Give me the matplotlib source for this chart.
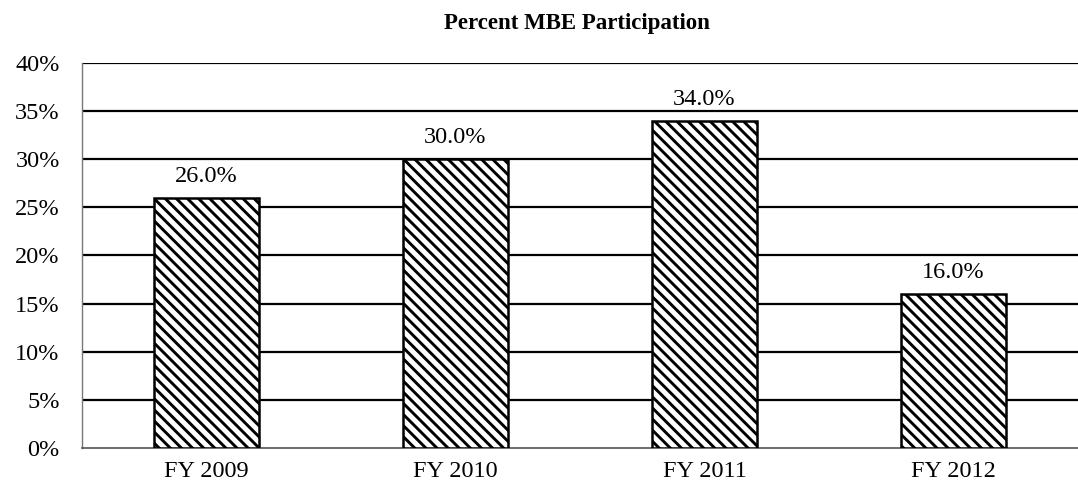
import matplotlib.pyplot as plt
import numpy as np

years = ['FY 2009', 'FY 2010', 'FY 2011', 'FY 2012']
mbe_pct = [26.0, 30.0, 34.0, 16.0]
yticks = [0, 5, 10, 15, 20, 25, 30, 35, 40]

plt.rcParams['font.family'] = ['Liberation Serif', 'DejaVu Serif']
plt.rcParams['hatch.linewidth'] = 2.1

fig = plt.figure(figsize=(10.78, 4.94), dpi=100)
ax = fig.add_axes([0.076, 0.093, 0.924, 0.78])

x = np.arange(len(years))
bars = ax.bar(x, mbe_pct, width=0.42, color='white', edgecolor='black',
              linewidth=1.8, hatch='\\\\\\', zorder=3)

# labels sit a bit above each bar, clear of the grid line
for b, v in zip(bars, mbe_pct):
    ax.annotate(f'{v:.1f}%', (b.get_x() + b.get_width() / 2, v),
                xytext=(0, 15.5), textcoords='offset points',
                ha='center', va='center', fontsize=17.5)

ax.set_xlim(-0.5, len(years) - 0.5)
ax.set_ylim(0, 40)
ax.set_yticks(yticks)
ax.set_yticklabels([f'{t}%' for t in yticks], fontsize=17.5)
ax.set_xticks(x)
ax.set_xticklabels(years, fontsize=17.5)
ax.tick_params(length=0, pad=9, axis='x')
ax.tick_params(length=0, pad=16, axis='y')

for t in yticks[1:]:
    ax.axhline(t, color='black', linewidth=1.6, zorder=1)

for s in ['top', 'right']:
    ax.spines[s].set_visible(False)
ax.spines['left'].set_color('#777777')
ax.spines['left'].set_linewidth(1.0)
ax.spines['bottom'].set_color('#555555')
ax.spines['bottom'].set_linewidth(1.2)

fig.text(0.535, 0.953, 'Percent MBE Participation', ha='center', va='center',
         fontsize=16.5, fontweight='bold')

fig.savefig('out.png', dpi=100)
